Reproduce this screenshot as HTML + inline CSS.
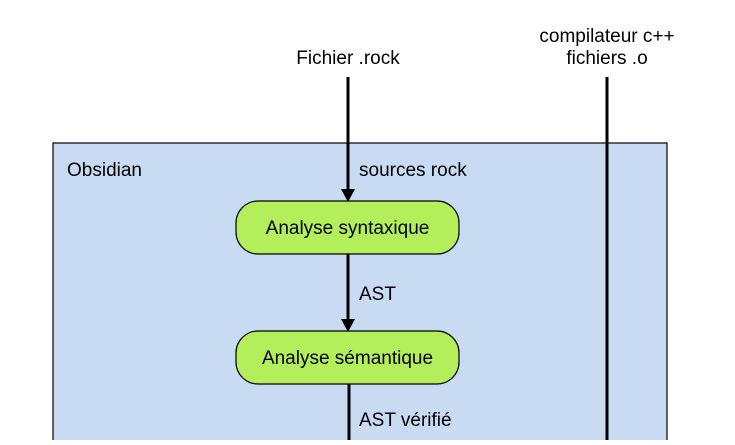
<!DOCTYPE html>
<html><head><style>
body{margin:0;background:#fff;}
svg text{font-family:"Liberation Sans",Arial,sans-serif;font-size:19px;fill:#000;}
</style></head><body>
<svg width="735" height="440" viewBox="0 0 735 440" xmlns="http://www.w3.org/2000/svg">
<rect x="53" y="143" width="614" height="310" fill="#c8dbf3" stroke="#000" stroke-width="1.2"/>
<text x="67" y="176">Obsidian</text>
<text x="348" y="64" text-anchor="middle">Fichier .rock</text>
<text x="607" y="42" text-anchor="middle">compilateur c++</text>
<text x="607" y="64" text-anchor="middle">fichiers .o</text>
<line x1="348" y1="77" x2="348" y2="192" stroke="#000" stroke-width="3"/>
<polygon points="341,189 355,189 348,202" fill="#000"/>
<line x1="607" y1="77" x2="607" y2="440" stroke="#000" stroke-width="3"/>
<text x="359" y="176">sources rock</text>
<rect x="236" y="201" width="223" height="53" rx="22" fill="#b2ef5b" stroke="#000" stroke-width="1.2"/>
<text x="347.5" y="234" text-anchor="middle">Analyse syntaxique</text>
<line x1="348" y1="254" x2="348" y2="322" stroke="#000" stroke-width="3"/>
<polygon points="341,319 355,319 348,332" fill="#000"/>
<text x="359" y="300">AST</text>
<rect x="236" y="331" width="223" height="53" rx="22" fill="#b2ef5b" stroke="#000" stroke-width="1.2"/>
<text x="347.5" y="364" text-anchor="middle">Analyse sémantique</text>
<line x1="349" y1="384" x2="349" y2="440" stroke="#000" stroke-width="3"/>
<text x="359" y="426">AST vérifié</text>
</svg>
</body></html>
